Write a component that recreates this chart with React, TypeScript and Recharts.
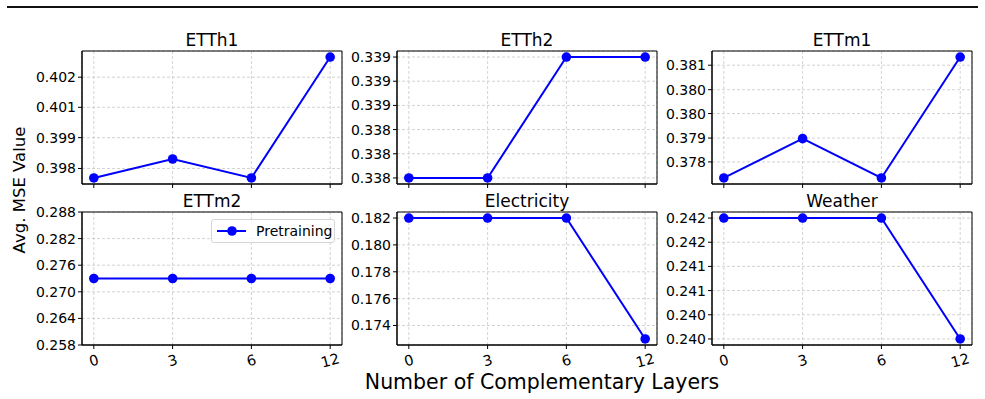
import React from 'react';
import { LineChart, Line, XAxis, YAxis, CartesianGrid, ReferenceArea, Legend } from 'recharts';

const FONT = '"DejaVu Sans", Verdana, sans-serif';

const layers = ['0', '3', '6', '12'];
const layerIndex = [0, 1, 2, 3];

const etth1 = [0.3976, 0.3984, 0.3976, 0.4027];
const etth2 = [0.3379, 0.3379, 0.3392, 0.3392];
const ettm1 = [0.3774, 0.3787, 0.3774, 0.3814];
const ettm2 = [0.273, 0.273, 0.273, 0.273];
const electricity = [0.182, 0.182, 0.182, 0.173];
const weather = [0.2423, 0.2423, 0.2423, 0.2399];

const etth1Ticks = [0.398, 0.3993, 0.40058, 0.40185];
const etth1Labels = ['0.398', '0.399', '0.401', '0.402'];
const etth2Ticks = [0.3379, 0.33816, 0.33842, 0.33868, 0.33894, 0.3392];
const etth2Labels = ['0.338', '0.338', '0.338', '0.339', '0.339', '0.339'];
const ettm1Ticks = [0.37793, 0.37872, 0.37953, 0.38032, 0.38113];
const ettm1Labels = ['0.378', '0.379', '0.380', '0.380', '0.381'];
const ettm2Ticks = [0.258, 0.264, 0.27, 0.276, 0.282, 0.288];
const ettm2Labels = ['0.258', '0.264', '0.270', '0.276', '0.282', '0.288'];
const ettm2Domain: [number, number] = [0.258, 0.288];
const elecTicks = [0.174, 0.176, 0.178, 0.18, 0.182];
const elecLabels = ['0.174', '0.176', '0.178', '0.180', '0.182'];
const weatherTicks = [0.2399, 0.24038, 0.24086, 0.24134, 0.24182, 0.2423];
const weatherLabels = ['0.240', '0.240', '0.241', '0.241', '0.242', '0.242'];

const seriesName = 'Pretraining';

type Panel = {
  title: string;
  values: number[];
  ticks: number[];
  labels: string[];
  domain?: [number, number];
  col: number;
  row: number;
  legend?: boolean;
};

const panels: Panel[] = [
  { title: 'ETTh1', values: etth1, ticks: etth1Ticks, labels: etth1Labels, col: 0, row: 0 },
  { title: 'ETTh2', values: etth2, ticks: etth2Ticks, labels: etth2Labels, col: 1, row: 0 },
  { title: 'ETTm1', values: ettm1, ticks: ettm1Ticks, labels: ettm1Labels, col: 2, row: 0 },
  { title: 'ETTm2', values: ettm2, ticks: ettm2Ticks, labels: ettm2Labels, domain: ettm2Domain, col: 0, row: 1, legend: true },
  { title: 'Electricity', values: electricity, ticks: elecTicks, labels: elecLabels, col: 1, row: 1 },
  { title: 'Weather', values: weather, ticks: weatherTicks, labels: weatherLabels, col: 2, row: 1 },
];

const plotLefts = [82, 397, 712];
const plotTops = [51, 212];
const PLOT_W = 260;
const PLOT_H = 133;
const Y_W = 60;
const M_TOP = 10;
const M_RIGHT = 5;
const X_H = 30;
const X_DOMAIN: [number, number] = [-0.15, 3.15];

const autoDomain = (vals: number[]): [number, number] => {
  const mn = Math.min(...vals);
  const mx = Math.max(...vals);
  const r = mx - mn;
  return [mn - 0.05 * r, mx + 0.05 * r];
};

const BottomTick = (props: any) => {
  const { x, y, payload } = props;
  const cy = y + 9.5;
  return (
    <text
      x={x}
      y={cy}
      transform={`rotate(-15, ${x}, ${cy})`}
      textAnchor="middle"
      dominantBaseline="central"
      fontSize={14.5}
      fill="#000"
      fontFamily={FONT}
    >
      {layers[payload.value]}
    </text>
  );
};

const EmptyTick = () => <g />;

const LegendBox = () => (
  <div
    style={{
      width: 124,
      height: 24,
      boxSizing: 'border-box',
      border: '1px solid #d6d6d6',
      borderRadius: 3,
      background: 'rgba(255,255,255,0.85)',
      position: 'relative',
      fontFamily: FONT,
      fontSize: 14,
      color: '#000',
    }}
  >
    <svg width={40} height={22} style={{ position: 'absolute', left: 0, top: 0 }}>
      <line x1={5} x2={34} y1={11} y2={11} stroke="#0000ff" strokeWidth={2} />
      <circle cx={20} cy={11} r={4.8} fill="#0000ff" />
    </svg>
    <span style={{ position: 'absolute', left: 44, top: 0, lineHeight: '22px', whiteSpace: 'nowrap' }}>
      {seriesName}
    </span>
  </div>
);

const PanelChart = ({ p }: { p: Panel }) => {
  const data = layerIndex.map((i) => ({ i, v: p.values[i] }));
  const domain = p.domain ?? autoDomain(p.values);
  const left = plotLefts[p.col] - Y_W;
  const top = plotTops[p.row] - M_TOP;
  const width = Y_W + PLOT_W + M_RIGHT;
  const height = M_TOP + PLOT_H + X_H;
  return (
    <div style={{ position: 'absolute', left, top, width, height }}>
      <LineChart width={width} height={height} data={data} margin={{ top: M_TOP, right: M_RIGHT, bottom: 0, left: 0 }}>
        <CartesianGrid stroke="#c8c8c8" strokeDasharray="3 2" strokeWidth={0.8} />
        <ReferenceArea
          x1={X_DOMAIN[0]}
          x2={X_DOMAIN[1]}
          y1={domain[0]}
          y2={domain[1]}
          fill="none"
          fillOpacity={0}
          stroke="#000"
          strokeWidth={1}
          ifOverflow="visible"
        />
        <XAxis
          type="number"
          dataKey="i"
          domain={X_DOMAIN}
          ticks={layerIndex}
          interval={0}
          height={X_H}
          tickSize={4}
          tickLine={{ stroke: '#000', strokeWidth: 1 }}
          axisLine={{ stroke: '#000', strokeWidth: 1 }}
          tick={p.row === 1 ? <BottomTick /> : <EmptyTick />}
          allowDataOverflow
        />
        <YAxis
          type="number"
          domain={domain}
          ticks={p.ticks}
          interval={0}
          width={Y_W}
          tickSize={4}
          tickLine={{ stroke: '#000', strokeWidth: 1 }}
          axisLine={{ stroke: '#000', strokeWidth: 1 }}
          tick={{ fontSize: 14, fill: '#000', fontFamily: FONT }}
          tickFormatter={(v: number) => p.labels[p.ticks.indexOf(v)] ?? ''}
          allowDataOverflow
        />
        {p.legend && (
          <Legend
            layout="vertical"
            align="center"
            verticalAlign="middle"
            content={<LegendBox />}
            wrapperStyle={{ position: 'absolute', left: 189, top: 17, width: 124, height: 24 }}
          />
        )}
        <Line
          type="linear"
          dataKey="v"
          name={seriesName}
          stroke="#0000ff"
          strokeWidth={2}
          dot={{ r: 4.8, fill: '#0000ff', stroke: '#0000ff', strokeWidth: 0 }}
          activeDot={false}
          isAnimationActive={false}
        />
      </LineChart>
    </div>
  );
};

export default function App() {
  return (
    <div
      style={{
        position: 'absolute',
        left: 0,
        top: 0,
        width: 985,
        height: 399,
        background: '#fff',
        fontFamily: FONT,
        overflow: 'hidden',
      }}
    >
      <div style={{ position: 'absolute', left: 7, top: 6, width: 971, height: 2, background: '#111' }} />
      {panels.map((p) => (
        <PanelChart key={p.title} p={p} />
      ))}
      <svg
        width={985}
        height={399}
        style={{ position: 'absolute', left: 0, top: 0, pointerEvents: 'none' }}
      >
        {panels.map((p) => (
          <text
            key={p.title}
            x={plotLefts[p.col] + PLOT_W / 2}
            y={p.row === 0 ? 45.5 : 207}
            textAnchor="middle"
            fontSize={17}
            fontFamily={FONT}
            fill="#000"
          >
            {p.title}
          </text>
        ))}
        <text x={542} y={389} textAnchor="middle" fontSize={20.5} fontFamily={FONT} fill="#000">
          Number of Complementary Layers
        </text>
        <text
          x={0}
          y={0}
          transform="translate(25,190) rotate(-90)"
          textAnchor="middle"
          fontSize={16.5}
          fontFamily={FONT}
          fill="#000"
        >
          Avg. MSE Value
        </text>
      </svg>
    </div>
  );
}
